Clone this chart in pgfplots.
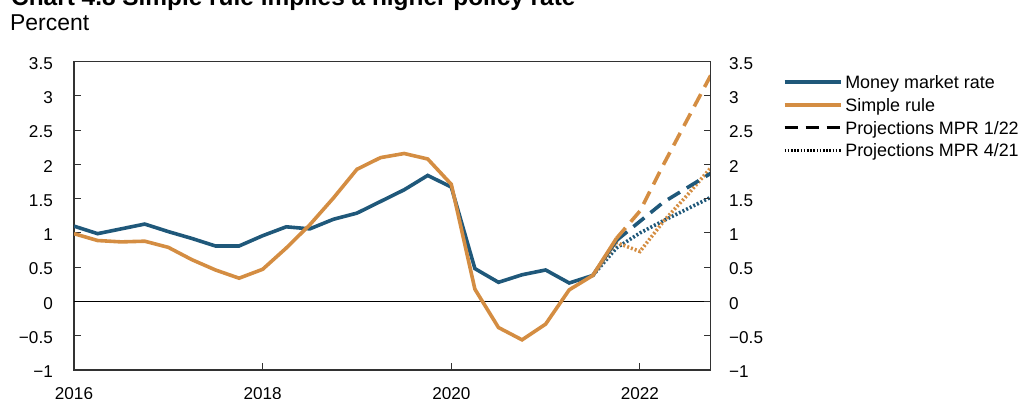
\documentclass[border=0pt]{standalone}
\usepackage{pgfplots}
\pgfplotsset{compat=1.18}
\usepackage{fontspec}
\setmainfont{Liberation Sans}
\definecolor{mmblue}{RGB}{31,88,122}
\definecolor{srorange}{RGB}{212,141,66}
\definecolor{axisgray}{RGB}{50,50,50}
\begin{document}
\begin{tikzpicture}
\useasboundingbox (0,0) rectangle (1026bp,399bp);
\node[anchor=base west, inner sep=0pt, font=\fontsize{24.5}{28}\selectfont\bfseries] at (11bp,393.5bp) {Chart 4.8 Simple rule implies a higher policy rate};
\node[anchor=base west, inner sep=0pt, font=\fontsize{23}{27}\selectfont] at (10bp,368bp) {Percent};
\begin{axis}[
  at={(74bp,29bp)}, anchor=south west,
  scale only axis, width=636.7bp, height=308.3bp,
  xmin=2016, xmax=2022.75, ymin=-1, ymax=3.5,
  xtick={2016,2018,2020,2022}, xticklabels={2016,2018,2020,2022},
  ytick={-1,-0.5,0,0.5,1,1.5,2,2.5,3,3.5},
  yticklabels={−1,−0.5,0,0.5,1,1.5,2,2.5,3,3.5},
  xtick pos=lower, ytick pos=left,
  tick align=inside,
  major tick length=7bp,
  axis line style={draw=axisgray, line width=1.2bp},
  every tick/.style={axisgray, line width=1bp},
  every tick label/.append style={font=\fontsize{17.2}{20}\selectfont, inner sep=0pt, text height=12.3bp, text depth=0bp},
  xticklabel style={anchor=north, yshift=-16.7bp},
  yticklabel style={anchor=east, xshift=-21bp, yshift=-1.5bp},
  legend cell align=left,
  legend style={at={(1,1)}, anchor=north west, xshift=72bp, yshift=-14bp,
    draw=none, fill=none, inner sep=0pt, outer sep=0pt,
    row sep=9.8bp, column sep=3bp,
    font=\fontsize{18}{21}\selectfont,
    nodes={inner sep=0pt, text height=12.9bp, text depth=0bp}},
  legend image code/.code={\draw[#1] (0bp,0bp) -- (56bp,0bp);},
]
\addlegendimage{mmblue, line width=3.6bp}
\addlegendentry{Money market rate}
\addlegendimage{srorange, line width=3.6bp}
\addlegendentry{Simple rule}
\addlegendimage{black, line width=3bp, dash pattern=on 13bp off 8bp}
\addlegendentry{Projections MPR 1/22}
\addlegendimage{black, line width=2.6bp, dash pattern=on 1.6bp off 1.6bp}
\addlegendentry{Projections MPR 4/21}

\draw[black, line width=1.5bp] (axis cs:2016,0) -- (axis cs:2022.75,0);

% projections MPR 4/21 (dotted)
\addplot[mmblue, line width=3.6bp, dash pattern=on 2bp off 2bp, forget plot] coordinates {
(2021.5,0.38) (2021.75,0.78) (2022.0,1.0) (2022.25,1.18) (2022.5,1.35) (2022.75,1.52)};
\addplot[srorange, line width=3.6bp, dash pattern=on 2bp off 2bp, forget plot] coordinates {
(2021.5,0.38) (2021.75,0.86) (2022.0,0.73) (2022.25,1.17) (2022.5,1.55) (2022.75,1.95)};
% projections MPR 1/22 (dashed)
\addplot[mmblue, line width=3.6bp, dash pattern=on 14bp off 8bp, forget plot] coordinates {
(2021.75,0.89) (2022.0,1.17) (2022.25,1.45) (2022.5,1.66) (2022.75,1.87)};
\addplot[srorange, line width=3.6bp, dash pattern=on 14bp off 8bp, forget plot] coordinates {
(2021.75,0.92) (2022.0,1.32) (2022.25,2.0) (2022.5,2.65) (2022.75,3.3)};
% money market rate
\addplot[mmblue, line width=3.6bp, forget plot] coordinates {
(2016.00,1.10) (2016.25,0.99) (2016.50,1.06) (2016.75,1.13)
(2017.00,1.02) (2017.25,0.92) (2017.50,0.81) (2017.75,0.81)
(2018.00,0.96) (2018.25,1.09) (2018.50,1.06) (2018.75,1.20)
(2019.00,1.29) (2019.25,1.46) (2019.50,1.63) (2019.75,1.84)
(2020.00,1.67) (2020.25,0.48) (2020.50,0.28) (2020.75,0.39)
(2021.00,0.46) (2021.25,0.27) (2021.50,0.38) (2021.75,0.89)};
% simple rule
\addplot[srorange, line width=3.6bp, forget plot] coordinates {
(2016.00,0.99) (2016.25,0.89) (2016.50,0.87) (2016.75,0.88)
(2017.00,0.79) (2017.25,0.61) (2017.50,0.46) (2017.75,0.34)
(2018.00,0.47) (2018.25,0.78) (2018.50,1.12) (2018.75,1.51)
(2019.00,1.93) (2019.25,2.10) (2019.50,2.16) (2019.75,2.08)
(2020.00,1.71) (2020.25,0.18) (2020.50,-0.38) (2020.75,-0.56)
(2021.00,-0.33) (2021.25,0.17) (2021.50,0.38) (2021.75,0.92)};
\end{axis}
\begin{axis}[
  at={(74bp,29bp)}, anchor=south west,
  scale only axis, width=636.7bp, height=308.3bp,
  xmin=2016, xmax=2022.75, ymin=-1, ymax=3.5,
  axis x line=none, axis y line*=right,
  y axis line style={-, draw=axisgray, line width=1.2bp},
  xtick=\empty,
  ytick={-1,-0.5,0,0.5,1,1.5,2,2.5,3,3.5},
  yticklabels={−1,−0.5,0,0.5,1,1.5,2,2.5,3,3.5},
  tick align=inside,
  major tick length=7bp,
  every tick/.style={axisgray, line width=1bp},
  every tick label/.append style={font=\fontsize{17.2}{20}\selectfont, inner sep=0pt, text height=12.3bp, text depth=0bp},
  yticklabel style={anchor=west, xshift=18.3bp, yshift=-1.5bp},
]
\addplot[draw=none, forget plot] coordinates {(2016,0)};
\end{axis}
\end{tikzpicture}
\end{document}
